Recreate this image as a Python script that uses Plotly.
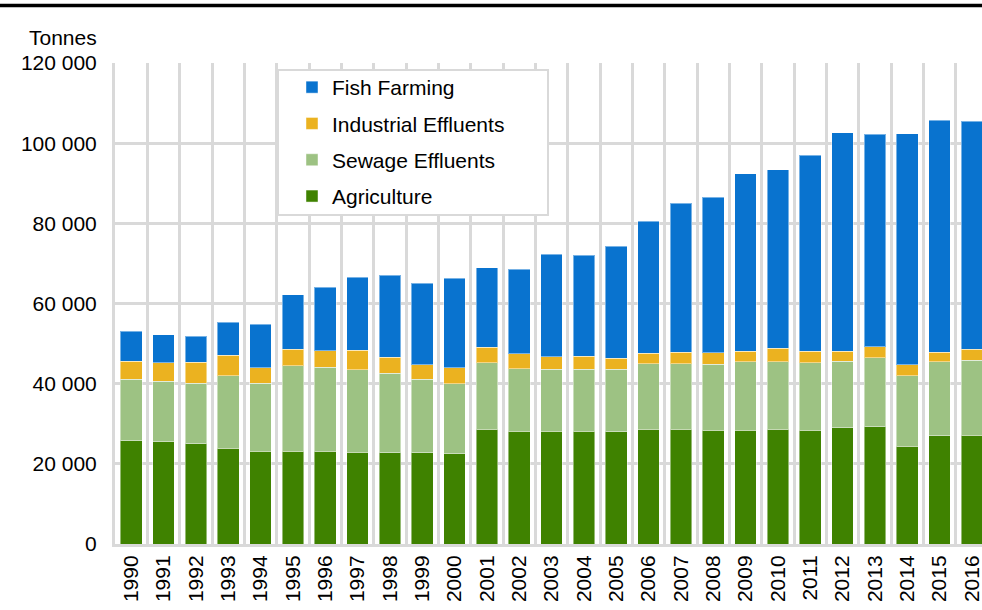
import plotly.graph_objects as go

years = [str(y) for y in range(1990, 2017)]

agriculture = [25700, 25450, 24950, 23950, 23200, 23200, 23120, 22950, 22790, 22790,
               22540, 28690, 28190, 28190, 28190, 28030, 28690, 28690, 28440, 28440,
               28690, 28440, 29020, 29270, 24370, 27030, 27190]
sewage = [15390, 15130, 15130, 18050, 16880, 21290, 20960, 20540, 19790, 18370,
          17380, 16470, 15550, 15390, 15390, 15550, 16220, 16300, 16380, 17050,
          16720, 16800, 16630, 17220, 17630, 18460, 18630]
industrial = [4560, 4580, 5240, 5150, 3910, 4080, 4150, 4910, 4070, 3580,
              3990, 3900, 3750, 3160, 3320, 2820, 2740, 2910, 2910, 2580,
              3400, 2910, 2500, 2740, 2660, 2410, 2750]
fish = [7490, 7060, 6490, 8150, 10810, 13630, 15800, 18130, 20460, 20370,
        22450, 19800, 21030, 25530, 25200, 27860, 32850, 37170, 38760, 44320,
        44580, 48820, 54470, 52970, 57710, 57800, 56960]

y_ticks = [0, 20000, 40000, 60000, 80000, 100000, 120000]

# (name, values, colour, legend rank) in stacking order bottom -> top
series = [
    ("Agriculture", agriculture, "#3f8200", 4),
    ("Sewage Effluents", sewage, "#9dc283", 3),
    ("Industrial Effluents", industrial, "#ebb220", 2),
    ("Fish Farming", fish, "#0973cf", 1),
]

FONT = "Liberation Sans, Arial, sans-serif"
FS = 21
GRID = "#d9d9d9"

fig = go.Figure()
for name, vals, col, rank in series:
    fig.add_trace(go.Bar(
        x=years, y=vals, name=name, legendgroup=name, legendrank=rank,
        marker=dict(color=col, line=dict(color="rgba(255,255,255,0.45)", width=1)),
    ))

W, H = 982, 610
L, R, T, B = 115, 0, 63, 66
pw = W - L - R
ph = H - T - B

def px(x):
    return (x - L) / pw

def py(y):
    return (H - B - y) / ph

fig.update_layout(
    width=W, height=H,
    margin=dict(l=L, r=R, t=T, b=B, pad=0),
    barmode="stack",
    bargap=0.33,
    plot_bgcolor="white",
    paper_bgcolor="white",
    separators=". ",
    font=dict(family=FONT, size=FS, color="#000000"),
    showlegend=True,
    legend=dict(
        traceorder="grouped",
        tracegroupgap=6,
        x=px(292), y=py(67), xanchor="left", yanchor="top",
        bgcolor="rgba(0,0,0,0)", borderwidth=0,
        font=dict(family=FONT, size=FS, color="#000000"),
        itemclick=False,
    ),
    xaxis=dict(
        type="category",
        range=[-0.5, 26.31],
        tickson="boundaries",
        showgrid=True, gridcolor=GRID, gridwidth=3,
        showline=True, linecolor=GRID, linewidth=3,
        ticks="", tickangle=-90,
        ticklabelstandoff=0,
        tickfont=dict(family=FONT, size=FS, color="#000000"),
    ),
    yaxis=dict(
        range=[0, 120000],
        tickvals=y_ticks,
        tickformat=",d",
        showgrid=True, gridcolor=GRID, gridwidth=3,
        zeroline=False,
        showline=True, linecolor=GRID, linewidth=3,
        ticks="",
        ticklabelstandoff=11,
        tickfont=dict(family=FONT, size=FS, color="#000000"),
    ),
    shapes=[
        dict(type="rect", xref="paper", yref="paper",
             x0=px(278), x1=px(548), y0=py(215), y1=py(70),
             fillcolor="white", line=dict(color=GRID, width=2), layer="above"),
        dict(type="line", xref="paper", yref="paper",
             x0=px(0), x1=px(W), y0=py(5.5), y1=py(5.5),
             line=dict(color="black", width=3.5)),
    ],
    annotations=[
        dict(text="Tonnes", xref="paper", yref="paper",
             x=px(63), y=py(37), xanchor="center", yanchor="middle",
             showarrow=False, font=dict(family=FONT, size=FS, color="#000000")),
    ],
)

fig.write_html(
    "out.html",
    config={"displayModeBar": False},
    post_script="document.body.style.margin='0';document.body.style.overflow='hidden';",
)
